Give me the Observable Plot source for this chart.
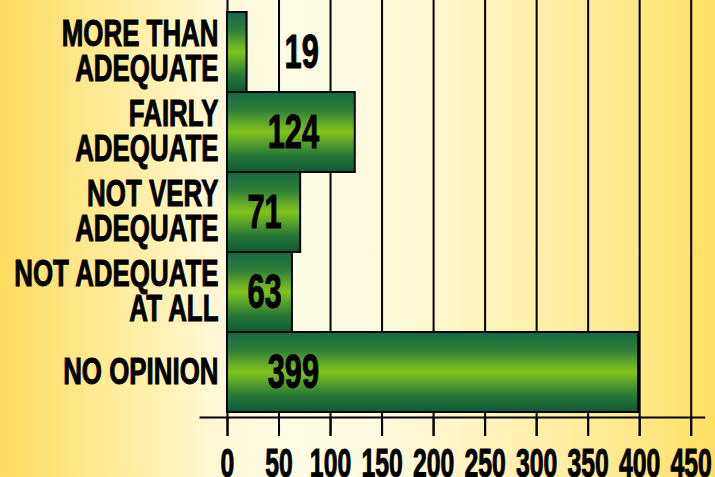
<!DOCTYPE html>
<html>
<head>
<meta charset="utf-8">
<script src="https://cdn.jsdelivr.net/npm/d3@7"></script>
<script src="https://cdn.jsdelivr.net/npm/@observablehq/plot@0.6"></script>
<style>
  html, body { margin: 0; padding: 0; background: #fff3c0; }
  #chart svg { display: block; }
</style>
</head>
<body>
<div id="chart"></div>
<script>
const categories = ["MORE THAN\nADEQUATE", "FAIRLY\nADEQUATE", "NOT VERY\nADEQUATE", "NOT ADEQUATE\nAT ALL", "NO OPINION"];
const values = [19, 124, 71, 63, 399];
const xTicks = [0, 50, 100, 150, 200, 250, 300, 350, 400, 450];

const data = categories.map((c, i) => ({category: c, value: values[i]}));
// label placement rule: thin bar -> outside, medium -> centred, long -> fixed inside
const labelX = d => d.value < 50 ? 72 : d.value < 100 ? 36 : 64;

const plot = Plot.plot({
  width: 715,
  height: 477,
  marginLeft: 227,
  marginRight: 24.3,
  marginTop: 10,
  marginBottom: 60,
  style: {
    background: "linear-gradient(to right, #ffdc60 0%, #ffefa8 20%, #fff8d4 30%, #fffde6 40%, #fffbe0 52%, #fff3bc 68%, #ffeb96 84%, #ffe064 100%)",
    fontFamily: "'Liberation Sans', Arial, sans-serif",
    color: "black"
  },
  x: {domain: [0, 450]},
  y: {domain: categories, range: [10, 414], padding: 0},
  marks: [
    Plot.ruleX(xTicks, {stroke: "black", strokeWidth: 2, insetTop: -10, insetBottom: -19}),
    Plot.barX(data, {x: "value", y: "category", fill: "url(#barGrad)", stroke: "black", strokeWidth: 2}),
    Plot.text(data, {x: labelX, y: "category", text: d => String(d.value), fontSize: 49, fontWeight: "bold", fill: "black", stroke: "black", strokeWidth: 1, textAnchor: "middle"}),
    Plot.frame({anchor: "bottom", stroke: "black", strokeWidth: 2, insetLeft: -27, insetRight: -13}),
    Plot.axisX({ticks: xTicks, tickSize: 19, tickPadding: 12, fontSize: 40, fontWeight: "bold", strokeWidth: 2, stroke: "black", fill: "black", label: null}),
    Plot.axisY({tickSize: 0, tickPadding: 9, fontSize: 37, fontWeight: "bold", lineHeight: 0.95, fill: "black", label: null})
  ]
});

const svg = d3.select(plot);
const defs = svg.insert("defs", ":first-child");
const grad = defs.append("linearGradient").attr("id", "barGrad")
  .attr("x1", 0).attr("y1", 0).attr("x2", 0).attr("y2", 1);
[[0, "#156941"], [0.22, "#2e7e3a"], [0.5, "#82c41c"], [0.78, "#2b7b36"], [1, "#0c5836"]]
  .forEach(([o, c]) => grad.append("stop").attr("offset", o).attr("stop-color", c));

function squeeze(sel, k) {
  sel.each(function() {
    const t = this.getAttribute("transform") || "";
    this.setAttribute("transform", (t + ` scale(${k},1)`).trim());
    this.setAttribute("stroke", "black");
    this.setAttribute("stroke-width", "1");
  });
}
squeeze(svg.selectAll('g[aria-label="y-axis tick label"] text'), 0.7);
squeeze(svg.selectAll('g[aria-label="x-axis tick label"] text'), 0.62);
squeeze(svg.selectAll('g[aria-label="text"] text'), 0.63);

document.getElementById("chart").appendChild(plot);
</script>
</body>
</html>
